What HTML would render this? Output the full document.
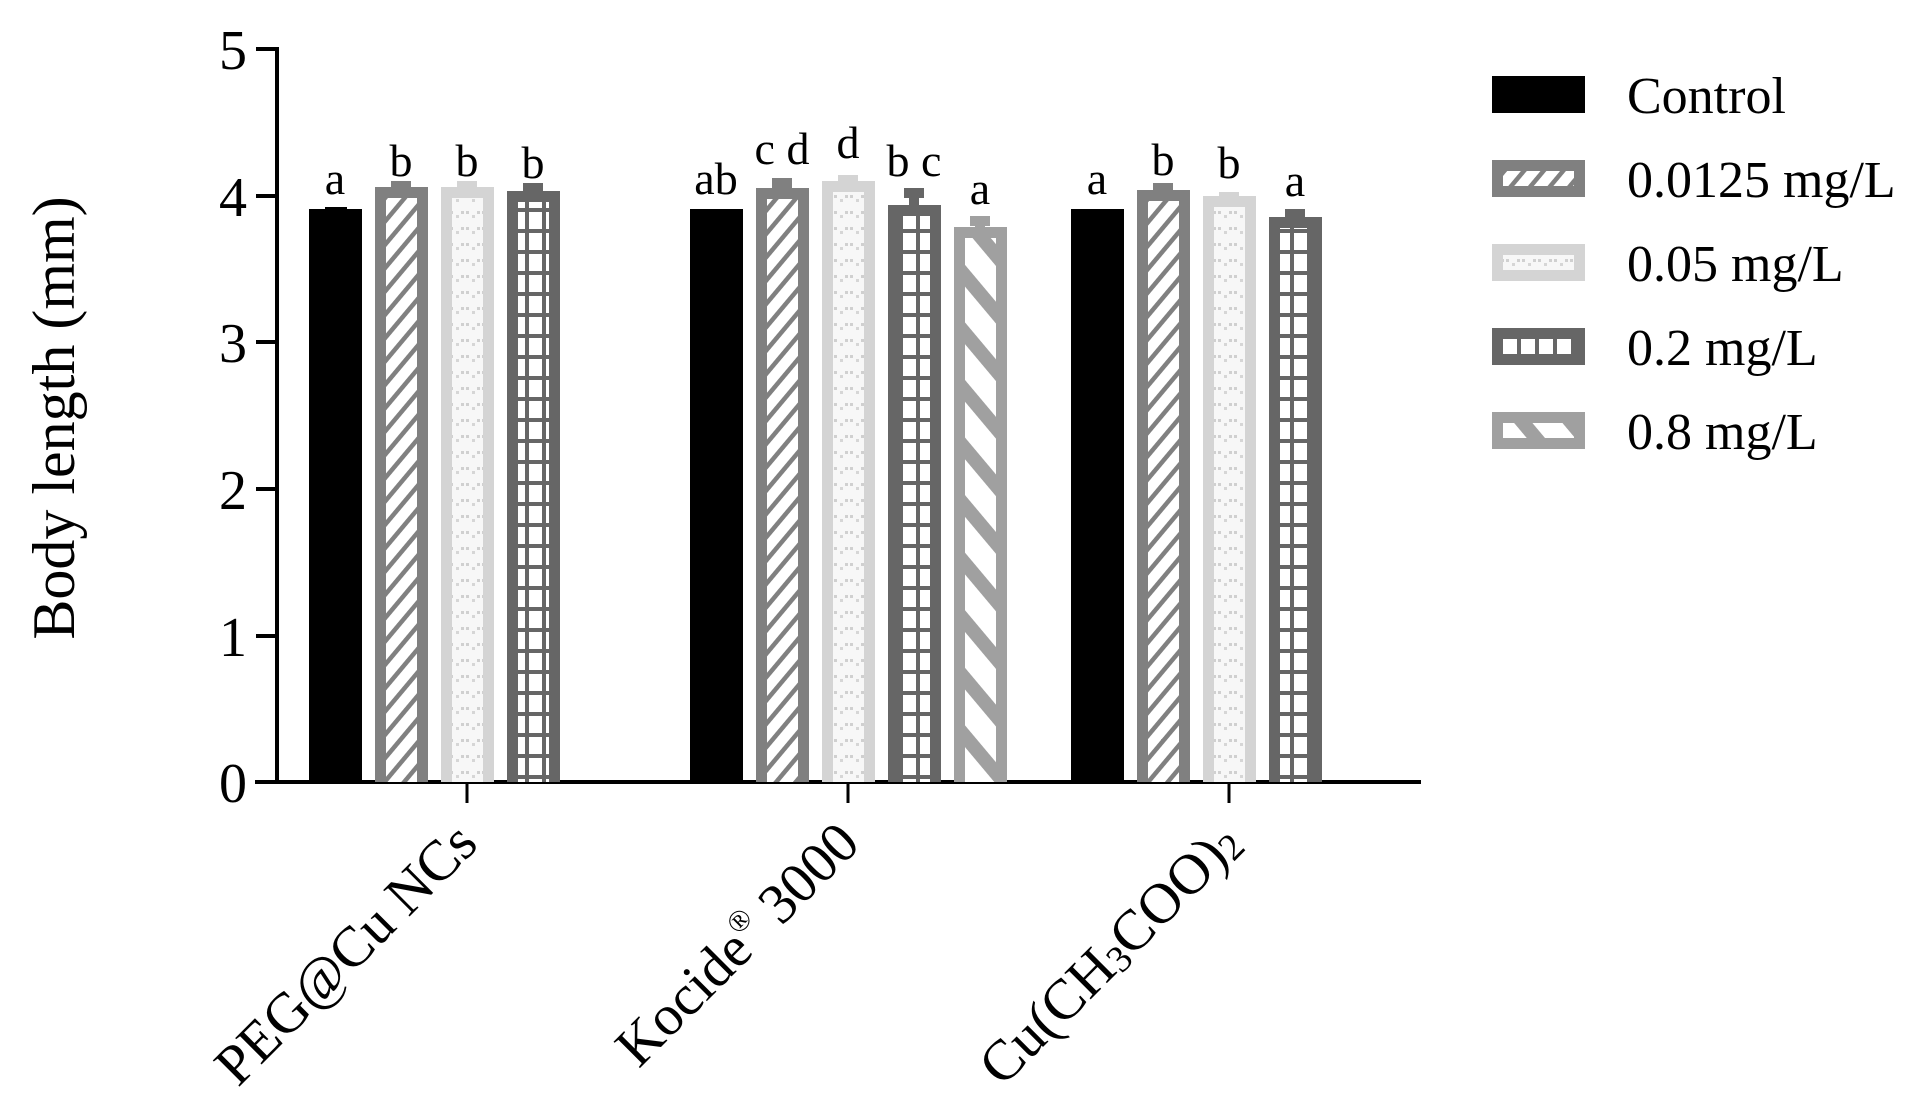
<!DOCTYPE html>
<html><head><meta charset="utf-8"><style>
html,body{margin:0;padding:0;background:#fff;}
svg{display:block;font-family:"Liberation Serif",serif;}
</style></head><body>
<svg width="1917" height="1093" viewBox="0 0 1917 1093" xmlns="http://www.w3.org/2000/svg">
<defs>
<pattern id="p1" patternUnits="userSpaceOnUse" width="15" height="15" patternTransform="rotate(40)">
<rect width="15" height="15" fill="#fff"/><rect width="4.5" height="15" fill="#808080"/></pattern>
<pattern id="p2" patternUnits="userSpaceOnUse" width="16" height="16">
<rect width="16" height="16" fill="#f7f7f7"/><rect x="2" y="3" width="3" height="3" fill="#d0d0d0"/><rect x="8" y="7" width="3" height="3" fill="#d6d6d6"/><rect x="13" y="3" width="3" height="3" fill="#d0d0d0"/></pattern>
<pattern id="p3" patternUnits="userSpaceOnUse" width="17" height="21" x="0" y="0">
<rect width="17" height="21" fill="#666"/><rect x="2" y="2" width="13" height="17" fill="#fff"/></pattern>
<pattern id="p4" patternUnits="userSpaceOnUse" width="37" height="37" patternTransform="rotate(-40)">
<rect width="37" height="37" fill="#fff"/><rect width="14" height="37" fill="#a0a0a0"/></pattern>
</defs>

<text transform="translate(74,418) rotate(-90)" text-anchor="middle" font-size="60">Body length (mm)</text>

<g stroke="#000" stroke-width="4" fill="none">
<line x1="277" y1="47" x2="277" y2="784"/>
<line x1="255" y1="782" x2="1421" y2="782"/>
<line x1="256" y1="49" x2="277" y2="49"/>
<line x1="256" y1="196" x2="277" y2="196"/>
<line x1="256" y1="342" x2="277" y2="342"/>
<line x1="256" y1="489" x2="277" y2="489"/>
<line x1="256" y1="636" x2="277" y2="636"/>
<line x1="467" y1="782" x2="467" y2="803" stroke-width="3"/>
<line x1="848" y1="782" x2="848" y2="803" stroke-width="3"/>
<line x1="1229" y1="782" x2="1229" y2="803" stroke-width="3"/>
</g>
<g font-size="56" text-anchor="end">
<text x="247" y="69">5</text>
<text x="247" y="216">4</text>
<text x="247" y="362">3</text>
<text x="247" y="509">2</text>
<text x="247" y="656">1</text>
<text x="247" y="802">0</text>
</g>

<rect x="309" y="209" width="53" height="573" fill="#000"/>
<rect x="325" y="207" width="22" height="3" fill="#000"/>
<rect x="391" y="181" width="20" height="8" fill="#808080"/>
<rect x="375" y="187" width="53" height="595" fill="#808080"/>
<rect x="386" y="198" width="31" height="584" fill="url(#p1)"/>
<rect x="457" y="181" width="20" height="8" fill="#d4d4d4"/>
<rect x="441" y="187" width="53" height="595" fill="#d4d4d4"/>
<rect x="452" y="198" width="31" height="584" fill="url(#p2)"/>
<rect x="523" y="183" width="20" height="10" fill="#666"/>
<rect x="507" y="191" width="53" height="591" fill="#666"/>
<rect x="518" y="202" width="31" height="580" fill="url(#p3)"/>

<rect x="690" y="209" width="53" height="573" fill="#000"/>
<rect x="772" y="178" width="20" height="10" fill="#808080"/>
<rect x="777" y="186" width="10" height="4" fill="#808080"/>
<rect x="756" y="188" width="53" height="594" fill="#808080"/>
<rect x="767" y="199" width="31" height="583" fill="url(#p1)"/>
<rect x="838" y="175" width="20" height="8" fill="#d4d4d4"/>
<rect x="822" y="181" width="53" height="601" fill="#d4d4d4"/>
<rect x="833" y="192" width="31" height="590" fill="url(#p2)"/>
<rect x="904" y="188" width="20" height="10" fill="#666"/>
<rect x="909" y="197" width="10" height="9" fill="#666"/>
<rect x="888" y="205" width="53" height="577" fill="#666"/>
<rect x="899" y="216" width="31" height="566" fill="url(#p3)"/>
<rect x="970" y="216" width="20" height="10" fill="#a0a0a0"/>
<rect x="975" y="225" width="10" height="3" fill="#a0a0a0"/>
<rect x="954" y="227" width="53" height="555" fill="#a0a0a0"/>
<rect x="965" y="238" width="31" height="544" fill="url(#p4)"/>

<rect x="1071" y="209" width="53" height="573" fill="#000"/>
<rect x="1153" y="183" width="20" height="8" fill="#808080"/>
<rect x="1137" y="190" width="53" height="592" fill="#808080"/>
<rect x="1148" y="201" width="31" height="581" fill="url(#p1)"/>
<rect x="1219" y="192" width="20" height="6" fill="#d4d4d4"/>
<rect x="1203" y="196" width="53" height="586" fill="#d4d4d4"/>
<rect x="1214" y="207" width="31" height="575" fill="url(#p2)"/>
<rect x="1285" y="209" width="20" height="10" fill="#666"/>
<rect x="1269" y="217" width="53" height="565" fill="#666"/>
<rect x="1280" y="228" width="31" height="554" fill="url(#p3)"/>

<g font-size="46" text-anchor="middle">
<text x="335" y="194">a</text>
<text x="401" y="176">b</text>
<text x="467" y="176">b</text>
<text x="533" y="178">b</text>
<text x="716" y="194">ab</text>
<text x="782" y="164">c d</text>
<text x="848" y="158">d</text>
<text x="914" y="176">b c</text>
<text x="980" y="204">a</text>
<text x="1097" y="194">a</text>
<text x="1163" y="175">b</text>
<text x="1229" y="178">b</text>
<text x="1295" y="196">a</text>
</g>

<g font-size="57" text-anchor="end">
<text transform="translate(480,846) rotate(-45)">PEG@Cu NCs</text>
<text transform="translate(862,846) rotate(-45)">Kocide<tspan font-size="30" dy="-24">®</tspan><tspan dy="24"> 3000</tspan></text>
<text transform="translate(1244,846) rotate(-45)">Cu(CH<tspan font-size="38" dy="4">3</tspan><tspan dy="-4">COO)</tspan><tspan font-size="38" dy="4">2</tspan></text>
</g>

<rect x="1492" y="76" width="93" height="37" fill="#000"/>
<rect x="1492" y="160" width="93" height="37" fill="#808080"/>
<rect x="1503" y="171" width="71" height="15" fill="url(#p1)"/>
<rect x="1492" y="244" width="93" height="37" fill="#d4d4d4"/>
<rect x="1503" y="255" width="71" height="15" fill="url(#p2)"/>
<rect x="1492" y="328" width="93" height="37" fill="#666"/>
<g fill="#fff"><rect x="1503" y="339" width="14" height="15"/><rect x="1521" y="339" width="14" height="15"/><rect x="1539" y="339" width="14" height="15"/><rect x="1557" y="339" width="14" height="15"/></g>
<rect x="1492" y="412" width="93" height="37" fill="#a0a0a0"/>
<rect x="1503" y="423" width="71" height="15" fill="url(#p4)"/>
<g font-size="52">
<text x="1627" y="113">Control</text>
<text x="1627" y="197">0.0125 mg/L</text>
<text x="1627" y="281">0.05 mg/L</text>
<text x="1627" y="365">0.2 mg/L</text>
<text x="1627" y="449">0.8 mg/L</text>
</g>
</svg>
</body></html>
